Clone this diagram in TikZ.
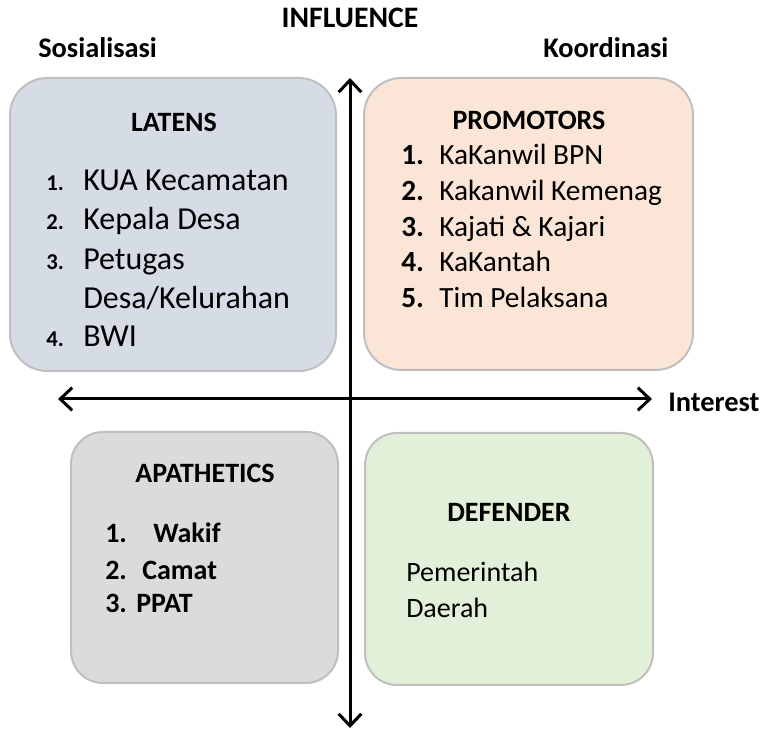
\documentclass[tikz,border=0pt]{standalone}
\usepackage{fontspec}
\setmainfont{Carlito}
\usetikzlibrary{arrows.meta}

\definecolor{latensfill}{HTML}{D6DCE5}
\definecolor{promofill}{HTML}{FBE5D6}
\definecolor{apatfill}{HTML}{DBDBDB}
\definecolor{defendfill}{HTML}{E2F0D9}
\definecolor{tepi}{HTML}{BFBFBF}

\begin{document}
\begin{tikzpicture}[x=0.75pt, y=-0.75pt,
    kotak/.style = {draw=tepi, line width=1.5pt, inner sep=0pt},
    judul/.style = {inner sep=0pt, anchor=base, font=\fontsize{21}{25}\selectfont\bfseries},
    sisi/.style = {inner sep=0pt, anchor=base west, font=\fontsize{21.3}{25}\selectfont\bfseries},
    isibesar/.style = {inner sep=0pt, anchor=base west, font=\fontsize{24}{29}\selectfont},
    nomorkecil/.style = {inner sep=0pt, anchor=base west, font=\fontsize{17}{20}\selectfont\bfseries},
    isi/.style = {inner sep=0pt, anchor=base west, font=\fontsize{22}{26}\selectfont},
    nomor/.style = {inner sep=0pt, anchor=base west, font=\fontsize{22}{26}\selectfont\bfseries},
    isitebal/.style = {inner sep=0pt, anchor=base west, font=\fontsize{21}{25}\selectfont\bfseries},
    isibiasa/.style = {inner sep=0pt, anchor=base west, font=\fontsize{21}{25}\selectfont},
    sumbu/.style = {line width=2.25pt, {Straight Barb[length=9pt,width=17pt]}-{Straight Barb[length=9pt,width=17pt]}}]

    \useasboundingbox (0,0) rectangle (765,730);

    % 1. Kotak kuadran
    \node[kotak, fill=latensfill, rounded corners=28pt, minimum width=244.5pt, minimum height=219.75pt] (latens) at (173,224.5) {};
    \node[kotak, fill=promofill, rounded corners=28pt, minimum width=246.75pt, minimum height=219pt] (promotors) at (528.5,224) {};
    \node[kotak, fill=apatfill, rounded corners=24pt, minimum width=200.25pt, minimum height=188.25pt] (apathetics) at (204.5,557.5) {};
    \node[kotak, fill=defendfill, rounded corners=24pt, minimum width=216pt, minimum height=189pt] (defender) at (509,559) {};

    % 2. Sumbu influence dan interest
    \coordinate (atas) at (350,78);
    \coordinate (bawah) at (350,728);
    \coordinate (kiri) at (58,399);
    \coordinate (kanan) at (652,399);
    \draw[sumbu] (bawah) -- (atas);
    \draw[sumbu] (kiri) -- (kanan);

    \node[judul, font=\fontsize{22.3}{26}\selectfont\bfseries] (influence) at (350,28) {INFLUENCE};
    \node[sisi] (sosialisasi) at (38,58) {Sosialisasi};
    \node[sisi] (koordinasi) at (543,58) {Koordinasi};
    \node[sisi] (interest) at (668,412) {Interest};

    % 3. Isi kuadran LATENS
    \node[judul] (tlatens) at (174,132) {LATENS};
    \node[nomorkecil] (l1n) at (46,191) {1.};
    \node[isibesar] (l1) at (83,191) {KUA Kecamatan};
    \node[nomorkecil] (l2n) at (46,230) {2.};
    \node[isibesar] (l2) at (83,230) {Kepala Desa};
    \node[nomorkecil] (l3n) at (46,270) {3.};
    \node[isibesar] (l3) at (83,270) {Petugas};
    \node[isibesar] (l3b) at (83,309) {Desa/Kelurahan};
    \node[nomorkecil] (l4n) at (46,347) {4.};
    \node[isibesar] (l4) at (83,347) {BWI};

    % 4. Isi kuadran PROMOTORS
    \node[judul] (tpromotors) at (529,130) {PROMOTORS};
    \node[nomor] (p1n) at (401,165) {1.};
    \node[isi] (p1) at (439,165) {KaKanwil BPN};
    \node[nomor] (p2n) at (401,201) {2.};
    \node[isi] (p2) at (439,201) {Kakanwil Kemenag};
    \node[nomor] (p3n) at (401,237) {3.};
    \node[isi] (p3) at (439,237) {Kajati \& Kajari};
    \node[nomor] (p4n) at (401,272) {4.};
    \node[isi] (p4) at (439,272) {KaKantah};
    \node[nomor] (p5n) at (401,308) {5.};
    \node[isi] (p5) at (439,308) {Tim Pelaksana};

    % 5. Isi kuadran APATHETICS
    \node[judul] (tapathetics) at (205,483) {APATHETICS};
    \node[isitebal] (a1n) at (105,543) {1.};
    \node[isitebal] (a1) at (153,543) {Wakif};
    \node[isitebal] (a2n) at (105,580) {2.};
    \node[isitebal] (a2) at (142,580) {Camat};
    \node[isitebal] (a3n) at (105,613) {3.};
    \node[isitebal] (a3) at (136,613) {PPAT};

    % 6. Isi kuadran DEFENDER
    \node[judul] (tdefender) at (509,522) {DEFENDER};
    \node[isibiasa] (d1) at (406,582) {Pemerintah};
    \node[isibiasa] (d2) at (406,618) {Daerah};
\end{tikzpicture}
\end{document}
